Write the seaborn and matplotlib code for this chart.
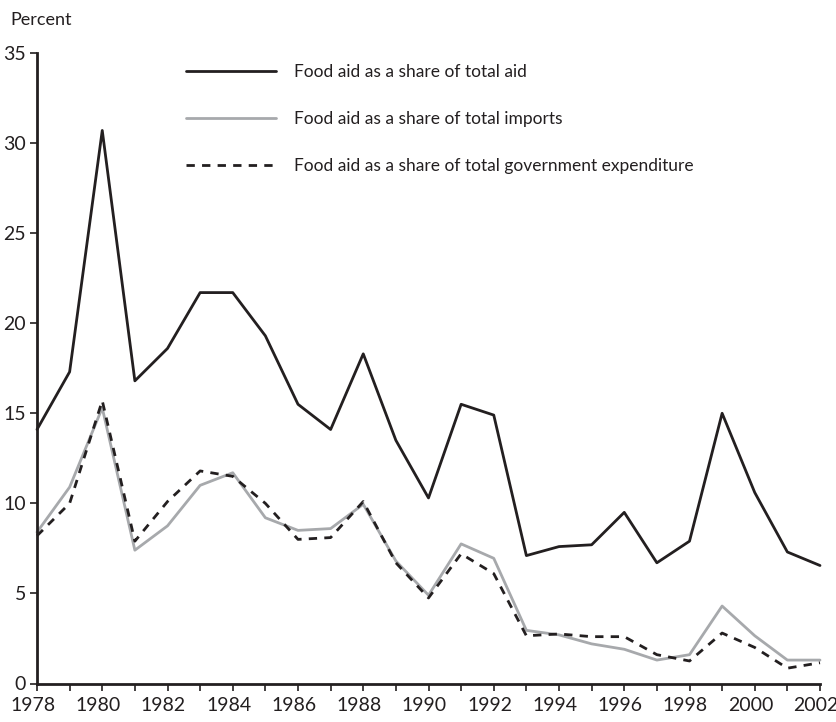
import matplotlib
matplotlib.use("Agg")
import matplotlib.pyplot as plt
import matplotlib.transforms as mtransforms
import seaborn as sns
import pandas as pd

years = list(range(1978, 2003))
share_total_aid = [14.1, 17.3, 30.7, 16.8, 18.6, 21.7, 21.7, 19.3, 15.5, 14.1, 18.3, 13.5, 10.3,
                   15.5, 14.9, 7.1, 7.6, 7.7, 9.5, 6.7, 7.9, 15.0, 10.6, 7.3, 6.55]
share_imports = [8.4, 10.9, 15.3, 7.4, 8.75, 11.0, 11.7, 9.2, 8.5, 8.6, 9.95, 6.8, 4.9,
                 7.75, 6.95, 2.95, 2.7, 2.2, 1.9, 1.3, 1.6, 4.3, 2.65, 1.3, 1.3]
share_gov_exp = [8.2, 10.0, 15.7, 7.9, 10.1, 11.8, 11.5, 10.0, 8.0, 8.1, 10.1, 6.7, 4.75,
                 7.2, 6.1, 2.65, 2.75, 2.6, 2.6, 1.6, 1.25, 2.8, 2.0, 0.85, 1.15]
labels = ["Food aid as a share of total aid",
          "Food aid as a share of total imports",
          "Food aid as a share of total government expenditure"]
yticks = [0, 5, 10, 15, 20, 25, 30, 35]
xticks = list(range(1978, 2003, 2))

sns.set_style("ticks")
plt.rcParams['font.family'] = ['Lato', 'DejaVu Sans']
plt.rcParams['text.color'] = '#231f20'

fig = plt.figure(figsize=(8.37, 7.22), dpi=100)
ax = fig.add_axes([37/837, 1 - 683.5/722, (820-37)/837, (683.5-53)/722])

df = pd.DataFrame({"year": years, "aid": share_total_aid,
                   "imp": share_imports, "gov": share_gov_exp})

sns.lineplot(data=df, x="year", y="aid", ax=ax, color="#231f20", lw=2.0, label=labels[0])
sns.lineplot(data=df, x="year", y="imp", ax=ax, color="#a7a9ac", lw=2.0, label=labels[1])
sns.lineplot(data=df, x="year", y="gov", ax=ax, color="#231f20", lw=2.0,
             label=labels[2], dashes=False)
ax.lines[2].set_dashes([3.0, 2.6])

ax.set_xlim(1978, 2002)
ax.set_ylim(0, 35)
ax.set_xticks(xticks)
ax.set_xticks(years, minor=True)
ax.set_yticks(yticks)
ax.set_xlabel("")
ax.set_ylabel("")
ax.tick_params(axis='both', which='both', length=5, width=1.2, colors='#231f20',
               labelsize=14, pad=3)
ax.tick_params(axis='x', which='major', pad=5)
shift = mtransforms.ScaledTranslation(-4/100, 0, fig.dpi_scale_trans)
for lbl in ax.get_xticklabels():
    lbl.set_transform(lbl.get_transform() + shift)
for side in ['top', 'right']:
    ax.spines[side].set_visible(False)
for side in ['left', 'bottom']:
    ax.spines[side].set_linewidth(2.0)
    ax.spines[side].set_color('#231f20')
for ln in ax.lines:
    ln.set_clip_on(False)

fig.text(10/837, 1 - 20/722, "Percent", fontsize=13, va='center', ha='left', color='#231f20')

leg = ax.legend(loc='upper left', bbox_to_anchor=((170-37)/783, (683.5-48)/630.5),
                frameon=False, fontsize=12.5, handlelength=5.2, handletextpad=1.05,
                labelspacing=1.8)

fig.savefig("out.png", dpi=100)
